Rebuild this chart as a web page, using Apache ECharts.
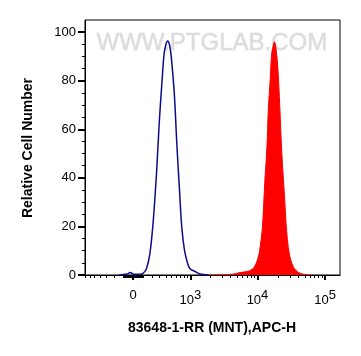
<!DOCTYPE html>
<html>
<head>
<meta charset="utf-8">
<script src="https://cdn.jsdelivr.net/npm/echarts@6/dist/echarts.min.js"></script>
<style>
  html, body { margin: 0; padding: 0; background: #fff; }
  #chart { width: 361px; height: 356px; }
</style>
</head>
<body>
<div id="chart"></div>
<script>
// x positions are in display (biexponential decade) units of the APC-H axis
var blueX = [1.95, 2.07, 2.12, 2.17, 2.27, 2.31, 2.36, 2.41, 2.46, 2.51, 2.55, 2.59, 2.62, 2.65, 2.67, 2.70, 2.73, 2.77, 2.81, 2.85, 2.88, 2.92, 2.96, 3.00, 3.08, 3.15, 3.28];
var blueY = [0, 0.4, 1.0, 0.3, 0.3, 0.7, 2.7, 8.9, 22.6, 43.2, 63.8, 80.2, 91.2, 95.3, 96.4, 94.7, 88.5, 74.8, 52.8, 33.6, 19.9, 10.3, 5.5, 2.7, 1.4, 0.4, 0];

var redX = [3.30, 3.50, 3.65, 3.74, 3.84, 3.92, 3.97, 4.02, 4.04, 4.07, 4.09, 4.11, 4.14, 4.16, 4.19, 4.21, 4.24, 4.25, 4.27, 4.30, 4.33, 4.36, 4.40, 4.43, 4.47, 4.53, 4.61, 4.73, 4.80];
var redY = [0, 0.1, 0.4, 1.0, 1.4, 2.3, 4.1, 8.2, 11.7, 18.5, 28.1, 39.1, 52.8, 67.9, 81.6, 91.2, 95.3, 96.0, 94.0, 85.7, 69.3, 50.1, 32.2, 18.5, 8.9, 3.4, 1.0, 0.1, 0];

var xMajorVals = [0, 1000, 10000, 100000];
var xMajorLabels = ['0', '10{s|3}', '10{s|4}', '10{s|5}'];
var yMajor = [0, 20, 40, 60, 80, 100];
var yMinor = [5, 10, 15, 25, 30, 35, 45, 50, 55, 65, 70, 75, 85, 90, 95];

var xMin = 1.45, xMax = 5.22;
var W = 145;
// biexponential-like display transform (value -> axis units)
function biex(v) {
    return Math.log10(W) + Math.asinh(v / (2 * W)) / Math.LN10;
}

var xMajor = xMajorVals.map(biex);
var xMinor = [];
for (var k = 1; k <= 9; k++) {
    xMinor.push(biex(10 * k), biex(-10 * k), biex(100 * k), biex(-100 * k));
    if (k > 1) {
        xMinor.push(biex(1000 * k), biex(10000 * k));
    }
}
xMinor = xMinor.filter(function (p) { return p > xMin && p < xMax; });

function pairs(xs, ys) {
    var out = [];
    for (var i = 0; i < xs.length; i++) out.push([xs[i], ys[i]]);
    return out;
}

var myChart = echarts.init(document.getElementById('chart'));
var font = 'Liberation Sans, Arial, sans-serif';
var option = {
    animation: false,
    grid: {
        left: 85, right: 21, top: 20, bottom: 81,
        show: true, borderColor: '#000', borderWidth: 1
    },
    xAxis: [
        {
            type: 'value', min: xMin, max: xMax, position: 'bottom',
            axisLine: { show: true, lineStyle: { color: '#000', width: 1 } },
            axisTick: { show: true, customValues: xMajor, length: 5, lineStyle: { color: '#000', width: 2 } },
            axisLabel: {
                customValues: xMajor, margin: 14,
                color: '#000', fontFamily: font, fontSize: 13,
                formatter: function (v) {
                    for (var i = 0; i < xMajor.length; i++) {
                        if (Math.abs(xMajor[i] - v) < 1e-6) return xMajorLabels[i];
                    }
                    return '';
                },
                rich: {
                    s: { fontSize: 13, fontFamily: font, color: '#000', padding: [0, 0, 10, 0] }
                }
            },
            splitLine: { show: false }
        },
        {
            type: 'value', min: xMin, max: xMax, position: 'bottom',
            axisLine: { show: false },
            axisTick: { show: true, customValues: xMinor, length: 3, lineStyle: { color: '#000', width: 1 } },
            axisLabel: { show: false },
            splitLine: { show: false }
        }
    ],
    yAxis: [
        {
            type: 'value', min: 0, max: 105,
            axisLine: { show: true, lineStyle: { color: '#000', width: 1 } },
            axisTick: { show: true, customValues: yMajor, length: 7, lineStyle: { color: '#000', width: 2 } },
            axisLabel: { customValues: yMajor, margin: 9, color: '#000', fontFamily: font, fontSize: 13 },
            splitLine: { show: false }
        },
        {
            type: 'value', min: 0, max: 105, position: 'left',
            axisLine: { show: false },
            axisTick: { show: true, customValues: yMinor, length: 3, lineStyle: { color: '#000', width: 1 } },
            axisLabel: { show: false },
            splitLine: { show: false }
        }
    ],
    graphic: [
        {
            type: 'text', left: 96, top: 31, z: 0,
            style: {
                text: 'WWW.PTGLAB.COM', fontFamily: font, fontSize: 24,
                fill: '#dcdcdc', stroke: '#ececec', lineWidth: 1
            }
        },
        {
            type: 'text', x: 212, y: 328,
            style: {
                text: '83648-1-RR (MNT),APC-H', fontFamily: font, fontSize: 14, fontWeight: 'bold',
                fill: '#000', align: 'center', verticalAlign: 'middle'
            }
        },
        {
            type: 'text', x: 28, y: 148, rotation: Math.PI / 2,
            style: {
                text: 'Relative Cell Number', fontFamily: font, fontSize: 14, fontWeight: 'bold',
                fill: '#000', align: 'center', verticalAlign: 'middle'
            }
        }
    ],
    series: []
};
option.series.push({
    name: 'control',
    type: 'line',
    smooth: 0.35,
    showSymbol: false,
    z: 3,
    lineStyle: { color: '#0c0c8a', width: 1.5 },
    data: pairs(blueX, blueY)
});
option.series.push({
    name: 'sample',
    type: 'line',
    smooth: 0.35,
    showSymbol: false,
    z: 2,
    lineStyle: { color: '#ff0000', width: 1 },
    areaStyle: { color: '#ff0000', opacity: 1 },
    data: pairs(redX, redY)
});
myChart.setOption(option);
</script>
</body>
</html>
